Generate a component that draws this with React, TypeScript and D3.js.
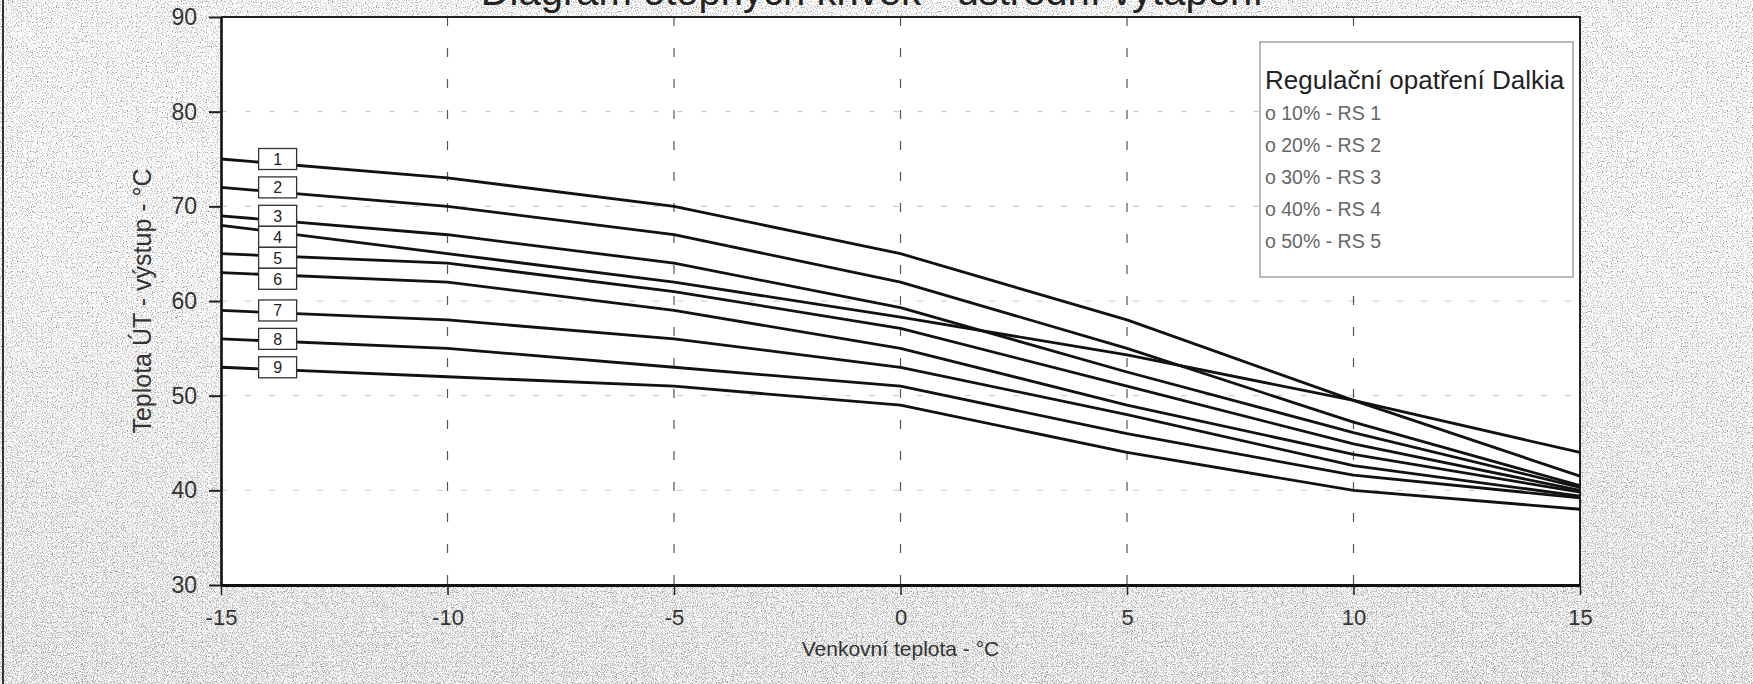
import * as d3 from "d3";
import { useEffect, useRef } from "react";

// outdoor temperature breakpoints of the heating curves
const outdoorTemps = [-15, -10, -5, 0, 5, 10, 15];

// supply temperature per curve
const curve1 = [75, 73, 70, 65, 58, 49.5, 41.5];
const curve2 = [72, 70, 67, 62, 55, 47.2, 40.5];
const curve3 = [69, 67, 64, 59.3, 52.5, 46.1, 40.3];
const curve4 = [68, 65, 62, 58.3, 54.3, 49.5, 44];
const curve5 = [65, 64, 61, 57.1, 51, 44.9, 40];
const curve6 = [63, 62, 59, 55, 49, 43.8, 39.8];
const curve7 = [59, 58, 56, 53, 48, 42.6, 39.4];
const curve8 = [56, 55, 53, 51, 46, 41.6, 39.2];
const curve9 = [53, 52, 51, 49, 44, 40, 38];

const curves = [curve1, curve2, curve3, curve4, curve5, curve6, curve7, curve8, curve9];
const curveLabels = ["1", "2", "3", "4", "5", "6", "7", "8", "9"];

const yTicks = [30, 40, 50, 60, 70, 80, 90];
const xGrid = [-10, -5, 0, 5, 10];
const yGrid = [40, 50, 60, 70, 80];

const chartTitle = "Diagram otopných křivek - ústřední vytápění";
const xTitle = "Venkovní teplota - °C";
const yTitle = "Teplota ÚT - výstup - °C";
const legendTitle = "Regulační opatření Dalkia";
const legendItems = ["o 10% - RS 1", "o 20% - RS 2", "o 30% - RS 3", "o 40% - RS 4", "o 50% - RS 5"];

const width = 1753;
const height = 684;
const plot = { left: 221, right: 1580, top: 17, bottom: 585 };
const font = "'Liberation Sans', Arial, sans-serif";
const labelX = -13.75;
const boxW = 38;
const boxH = 21;

export default function App() {
  const svgRef = useRef<SVGSVGElement>(null);

  useEffect(() => {
    if (!svgRef.current) return;
    const svg = d3.select(svgRef.current);
    svg.selectAll("*").remove();

    const x = d3.scaleLinear().domain([-15, 15]).range([plot.left, plot.right]);
    const y = d3.scaleLinear().domain([30, 90]).range([plot.bottom, plot.top]);

    // scanned paper speckle, heavier towards the bottom
    const defs = svg.append("defs");
    const f = defs.append("filter")
      .attr("id", "speckle")
      .attr("filterUnits", "userSpaceOnUse")
      .attr("x", 0).attr("y", 0).attr("width", width).attr("height", height);
    f.append("feTurbulence")
      .attr("type", "fractalNoise")
      .attr("baseFrequency", 0.8)
      .attr("numOctaves", 1)
      .attr("seed", 7);
    f.append("feColorMatrix")
      .attr("type", "matrix")
      .attr("values", "0 0 0 0 0.3  0 0 0 0 0.3  0 0 0 0 0.3  3.6 0 0 0 -1.78");

    const f2 = defs.append("filter")
      .attr("id", "speckle2")
      .attr("filterUnits", "userSpaceOnUse")
      .attr("x", 0).attr("y", 0).attr("width", width).attr("height", height);
    f2.append("feTurbulence")
      .attr("type", "fractalNoise")
      .attr("baseFrequency", 0.9)
      .attr("numOctaves", 1)
      .attr("seed", 21);
    f2.append("feColorMatrix")
      .attr("type", "matrix")
      .attr("values", "0 0 0 0 0.35  0 0 0 0 0.35  0 0 0 0 0.35  3.6 0 0 0 -1.75");

    const grad = defs.append("linearGradient")
      .attr("id", "fadeDown").attr("x1", 0).attr("y1", 0).attr("x2", 0).attr("y2", 1);
    grad.append("stop").attr("offset", "0.35").attr("stop-color", "#fff").attr("stop-opacity", 0);
    grad.append("stop").attr("offset", "1").attr("stop-color", "#fff").attr("stop-opacity", 1);
    defs.append("mask").attr("id", "bottomMask")
      .append("rect").attr("width", width).attr("height", height).attr("fill", "url(#fadeDown)");

    svg.append("rect").attr("width", width).attr("height", height).attr("fill", "#fff");
    svg.append("rect").attr("width", width).attr("height", height).attr("filter", "url(#speckle)");
    svg.append("g").attr("mask", "url(#bottomMask)")
      .append("rect").attr("width", width).attr("height", height).attr("filter", "url(#speckle2)");
    svg.append("line")
      .attr("x1", 3).attr("x2", 3).attr("y1", 0).attr("y2", height)
      .attr("stroke", "#333").attr("stroke-width", 2);

    svg.append("rect")
      .attr("x", plot.left).attr("y", plot.top)
      .attr("width", plot.right - plot.left).attr("height", plot.bottom - plot.top)
      .attr("fill", "#fff");

    svg.append("text")
      .attr("x", 872).attr("y", 5)
      .attr("text-anchor", "middle")
      .attr("font-family", font).attr("font-size", 40).attr("fill", "#222")
      .text(chartTitle);

    // grid
    svg.append("g").selectAll("line").data(yGrid).join("line")
      .attr("x1", plot.left).attr("x2", plot.right)
      .attr("y1", (d) => y(d)).attr("y2", (d) => y(d))
      .attr("stroke", "#c8c8c8").attr("stroke-width", 1).attr("stroke-dasharray", "6,18");
    svg.append("g").selectAll("line").data(xGrid).join("line")
      .attr("x1", (d) => x(d)).attr("x2", (d) => x(d))
      .attr("y1", plot.top).attr("y2", plot.bottom)
      .attr("stroke", "#555").attr("stroke-width", 1.2).attr("stroke-dasharray", "9,22");

    // frame top and right
    svg.append("path")
      .attr("d", `M${plot.left},${plot.top}H${plot.right}V${plot.bottom}`)
      .attr("fill", "none").attr("stroke", "#222").attr("stroke-width", 2);

    const line = d3.line<number>()
      .x((_, i) => x(outdoorTemps[i]))
      .y((d) => y(d));

    svg.append("g").selectAll("path").data(curves).join("path")
      .attr("d", (d) => line(d))
      .attr("fill", "none")
      .attr("stroke", "#111")
      .attr("stroke-width", 2.8)
      .attr("stroke-linejoin", "round");

    // curve number boxes, pushed down where they would overlap
    let prev = -Infinity;
    const boxes = curves.map((c, i) => {
      let cy = y(c[0]);
      if (cy < prev + boxH) cy = prev + boxH;
      prev = cy;
      return { label: curveLabels[i], cy };
    });
    const bg = svg.append("g").selectAll("g").data(boxes).join("g")
      .attr("transform", (d) => `translate(${x(labelX)},${d.cy})`);
    bg.append("rect")
      .attr("x", -boxW / 2).attr("y", -boxH / 2)
      .attr("width", boxW).attr("height", boxH)
      .attr("fill", "#fff").attr("stroke", "#333").attr("stroke-width", 1.3);
    bg.append("text")
      .attr("text-anchor", "middle").attr("dy", "0.36em")
      .attr("font-family", font).attr("font-size", 16).attr("fill", "#222")
      .text((d) => d.label);

    // axes
    const yAxis = svg.append("g")
      .attr("transform", `translate(${plot.left},0)`)
      .call(d3.axisLeft(y).tickValues(yTicks).tickSize(12).tickSizeOuter(0).tickPadding(12).tickFormat((d) => String(d)));
    yAxis.select(".domain").attr("stroke", "#111").attr("stroke-width", 2.6);
    yAxis.selectAll(".tick line").attr("stroke", "#222").attr("stroke-width", 2);
    yAxis.selectAll(".tick text")
      .attr("font-family", font).attr("font-size", 23).attr("fill", "#333");

    const xAxis = svg.append("g")
      .attr("transform", `translate(0,${plot.bottom})`)
      .call(d3.axisBottom(x).tickValues(outdoorTemps).tickSize(10).tickSizeOuter(0).tickPadding(14).tickFormat((d) => String(d)));
    xAxis.select(".domain").attr("stroke", "#111").attr("stroke-width", 3);
    xAxis.selectAll(".tick line").attr("stroke", "#222").attr("stroke-width", 1.5);
    xAxis.selectAll(".tick text")
      .attr("font-family", font).attr("font-size", 22).attr("fill", "#333");

    svg.append("text")
      .attr("x", x(0)).attr("y", 656)
      .attr("text-anchor", "middle")
      .attr("font-family", font).attr("font-size", 21).attr("fill", "#333")
      .text(xTitle);

    svg.append("text")
      .attr("transform", `translate(151,${y(60)}) rotate(-90)`)
      .attr("text-anchor", "middle")
      .attr("font-family", font).attr("font-size", 25).attr("fill", "#333")
      .text(yTitle);

    // legend
    const lg = svg.append("g").attr("transform", "translate(1260,42)");
    lg.append("rect")
      .attr("width", 313).attr("height", 235)
      .attr("fill", "#fff").attr("stroke", "#777").attr("stroke-width", 1);
    lg.append("text")
      .attr("x", 5).attr("y", 47)
      .attr("font-family", font).attr("font-size", 26).attr("fill", "#222")
      .text(legendTitle);
    lg.selectAll("text.item").data(legendItems).join("text")
      .attr("class", "item")
      .attr("x", 5).attr("y", (_, i) => 78 + i * 32)
      .attr("font-family", font).attr("font-size", 19.5).attr("fill", "#666")
      .text((d) => d);
  }, []);

  return (
    <div style={{ position: "absolute", left: 0, top: 0 }}>
      <svg ref={svgRef} width={width} height={height} style={{ display: "block" }}></svg>
    </div>
  );
}
